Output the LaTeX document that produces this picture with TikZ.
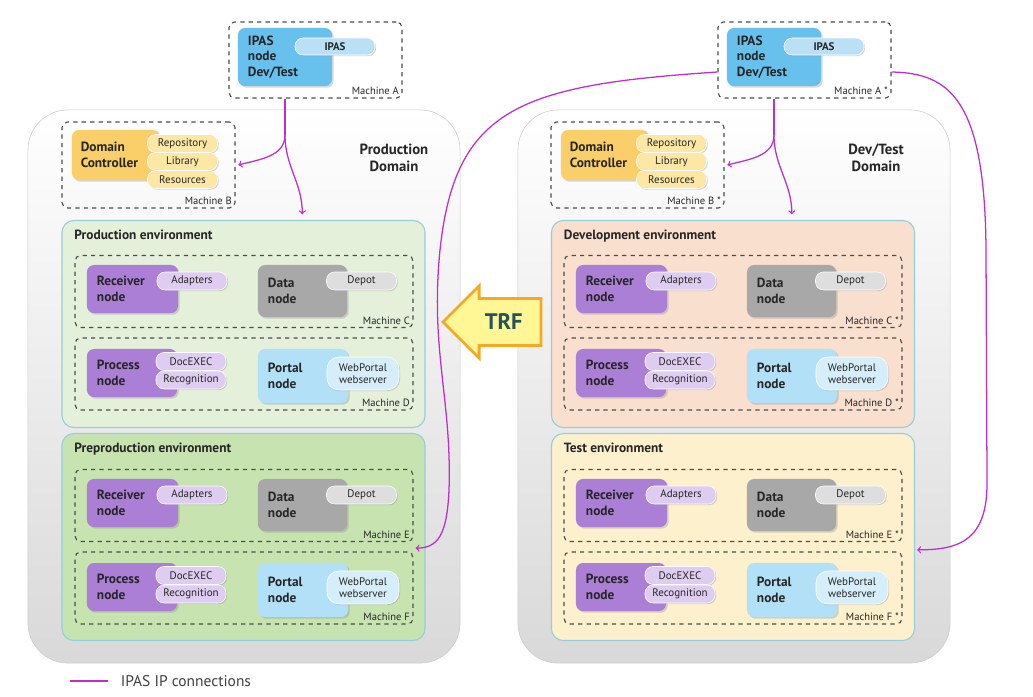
\documentclass[tikz,border=0pt]{standalone}
\usepackage{fontspec}
\setmainfont{PT Sans}
\usetikzlibrary{shadows,shapes.arrows}

\definecolor{ipline}{RGB}{190,45,205}
\definecolor{recvfill}{RGB}{171,127,214}
\definecolor{recvpill}{RGB}{222,205,240}
\definecolor{datafill}{RGB}{168,168,168}
\definecolor{datapill}{RGB}{222,222,222}
\definecolor{portfill}{RGB}{178,224,246}
\definecolor{portpill}{RGB}{214,238,250}
\definecolor{ipasfill}{RGB}{104,192,236}
\definecolor{ipaspill}{RGB}{186,224,246}
\definecolor{dcfill}{RGB}{250,206,104}
\definecolor{dcpill}{RGB}{253,231,165}
\definecolor{prodfill}{RGB}{228,240,218}
\definecolor{prefill}{RGB}{199,227,176}
\definecolor{devfill}{RGB}{248,223,206}
\definecolor{testfill}{RGB}{253,240,204}
\definecolor{envline}{RGB}{150,206,218}
\definecolor{trfline}{RGB}{246,168,36}
\definecolor{trffill}{RGB}{255,246,150}
\definecolor{trftext}{RGB}{36,82,96}

\tikzstyle{every node}=[font=\fontsize{9}{10.7}\selectfont, text=black!85]
\tikzstyle{domainbox}=[rounded corners=1cm, draw=black!20, top color=white, bottom color=black!15, minimum width=10.8cm, minimum height=13.825cm]
\tikzstyle{dtitle}=[align=center, font=\bfseries\fontsize{10.5}{12}\selectfont]
\tikzstyle{envbox}=[rounded corners=0.3cm, draw=envline, thick, minimum width=9.075cm, minimum height=5.175cm]
\tikzstyle{envtitle}=[anchor=north west, inner sep=0pt, font=\bfseries\fontsize{9.5}{11}\selectfont]
\tikzstyle{machine}=[draw=black!70, thick, dashed, rounded corners=4pt, minimum width=8.45cm, minimum height=1.8cm]
\tikzstyle{topbox}=[machine, minimum width=4.325cm]
\tikzstyle{mlabel}=[anchor=south east, inner sep=2.5pt, font=\fontsize{7.5}{8.5}\selectfont]
\tikzstyle{sw}=[rounded corners=5pt, align=left, inner xsep=0.25cm, font=\bfseries\fontsize{9.5}{10.9}\selectfont, drop shadow={shadow xshift=1.2pt, shadow yshift=-1.2pt, opacity=0.3}]
\tikzstyle{recvnode}=[sw, fill=recvfill, minimum width=2.275cm, minimum height=1.2cm, text width=1.775cm]
\tikzstyle{procnode}=[sw, fill=recvfill, minimum width=2.25cm, minimum height=1.2cm, text width=1.75cm]
\tikzstyle{datanode}=[sw, fill=datafill, minimum width=2.225cm, minimum height=1.3cm, text width=1.725cm]
\tikzstyle{portnode}=[sw, fill=portfill, minimum width=2.25cm, minimum height=1.35cm, text width=1.75cm]
\tikzstyle{ipasnode}=[sw, fill=ipasfill, minimum width=2.35cm, minimum height=1.45cm, text width=1.85cm]
\tikzstyle{dcnode}=[sw, fill=dcfill, minimum width=2.2cm, minimum height=1.25cm, text width=1.76cm, inner xsep=0.22cm]
\tikzstyle{pill}=[rounded corners=0.2cm, draw=white, align=center, inner sep=1pt, minimum width=1.75cm, minimum height=0.45cm, font=\fontsize{7.8}{8.6}\selectfont, drop shadow={shadow xshift=0.8pt, shadow yshift=-0.8pt, opacity=0.3}]
\tikzstyle{ipconn}=[draw=ipline, line width=0.9pt]
\tikzstyle{trf}=[single arrow, shape border rotate=180, fill=trffill, draw=trfline, line width=2pt, minimum height=2.45cm, single arrow head extend=9pt, inner ysep=10pt, inner xsep=3pt, font=\bfseries\fontsize{16}{16}\selectfont, text=trftext]

\begin{document}
\begin{tikzpicture}[x=0.025cm, y=-0.025cm]
  \useasboundingbox (0,0) rectangle (1033,697);

  % domains
  \node[domainbox] (domL) at (244,386.5) {};
  \node[domainbox] (domR) at (734,386.5) {};
  \node[dtitle] (tdomL) at (394,158) {Production\\Domain};
  \node[dtitle] (tdomR) at (876,158) {Dev/Test\\Domain};

  % environments
  \node[envbox, fill=prodfill] (envProd) at (243.5,324) {};
  \node[envbox, fill=prefill] (envPre) at (243.5,537) {};
  \node[envbox, fill=devfill] (envDev) at (733,324) {};
  \node[envbox, fill=testfill] (envTest) at (733,537) {};
  \node[envtitle] (tProd) at ([xshift=0.32cm,yshift=-0.25cm]envProd.north west) {Production environment};
  \node[envtitle] (tPre) at ([xshift=0.32cm,yshift=-0.25cm]envPre.north west) {Preproduction environment};
  \node[envtitle] (tDev) at ([xshift=0.32cm,yshift=-0.25cm]envDev.north west) {Development environment};
  \node[envtitle] (tTest) at ([xshift=0.32cm,yshift=-0.25cm]envTest.north west) {Test environment};

  % machines inside the environments
  \foreach \dx/\dy/\m/\n/\k/\s in {0/0/C/D/L/{}, 0/214/E/F/L/{}, 489/0/C/D/R/{\ *}, 489/214/E/F/R/{\ *}}{
    \begin{scope}[shift={(\dx,\dy)}]
      \node[machine] (box\m\k) at (244,291.5) {};
      \node[recvnode] (recv\m\k) at (132.5,289) {Receiver\\node};
      \node[pill, fill=recvpill] (adap\m\k) at (192,281) {Adapters};
      \node[datanode] (data\m\k) at (302.5,291) {Data\\node};
      \node[pill, fill=datapill] (depot\m\k) at (361.5,281) {Depot};
      \node[mlabel] (lab\m\k) at (box\m\k.south east) {Machine \m\s};
      \node[machine] (box\n\k) at (244,374) {};
      \node[procnode] (proc\n\k) at (132,373) {Process\\node};
      \node[pill, fill=recvpill] (exec\n\k) at (191,361.5) {DocEXEC};
      \node[pill, fill=recvpill] (recog\n\k) at (191,380) {Recognition};
      \node[portnode] (port\n\k) at (303,376) {Portal\\node};
      \node[pill, fill=portpill, minimum width=1.8cm, minimum height=0.825cm, rounded corners=0.3cm] (web\n\k) at (363,373.5) {WebPortal\\webserver};
      \node[mlabel] (lab\n\k) at (box\n\k.south east) {Machine \n\s};
    \end{scope}
  }

  % IPAS machine and domain controller
  \foreach \dx/\k/\e/\s in {0/L/Prod/{}, 489/R/Dev/{\ *}}{
    \begin{scope}[shift={(\dx,0)}]
      \node[topbox, minimum height=1.9cm] (ipm\k) at (315.5,60) {};
      \node[ipasnode] (ipn\k) at (285,57) {IPAS\\node\\Dev/Test};
      \node[pill, fill=ipaspill, minimum width=2cm, minimum height=0.425cm] (ipp\k) at (335,46.5) {\bfseries IPAS};
      \node[mlabel] (labA\k) at (ipm\k.south east) {Machine A\s};
      \node[topbox, minimum height=2.15cm] (dcm\k) at (148.5,165) {};
      \node[dcnode] (dc\k) at (116,155) {Domain\\Controller};
      \node[pill, fill=dcpill] (repo\k) at (182.5,143.5) {Repository};
      \node[pill, fill=dcpill] (lib\k) at (182.5,161.5) {Library};
      \node[pill, fill=dcpill] (res\k) at (182.5,179.5) {Resources};
      \node[mlabel] (labB\k) at (dcm\k.south east) {Machine B\s};
      \coordinate (split\k) at (285,135);
      \draw[ipconn] (ipn\k |- ipm\k.south) -- (split\k);
      \draw[ipconn,->] (split\k) to[out=-90,in=15] ([xshift=2pt]dcm\k.east);
      \draw[ipconn,->] (split\k) to[out=-90,in=90] ([xshift=1.47cm,yshift=4pt]env\e.north);
    \end{scope}
  }

  % long connections from the dev/test IPAS node
  \draw[ipconn,->] ([yshift=-0.3cm]ipmR.west) .. controls (520,85) and (455,108) .. (440,250)
    .. controls (430,350) and (452,400) .. (449,490)
    .. controls (447,535) and (438,548) .. ([xshift=-0.25cm,yshift=-0.28cm]envPre.east);
  \draw[ipconn,->] ([yshift=-0.3cm]ipmR.east) .. controls (950,73) and (985,100) .. (986,250)
    -- (987,480) .. controls (988,540) and (960,550) .. ([xshift=0.05cm,yshift=-0.32cm]envTest.east);

  % transfer arrow
  \node[trf, anchor=tip] (trf) at (441,322) {TRF};

  % legend
  \coordinate (legA) at (70,681);
  \coordinate (legB) at (108,681);
  \draw[ipconn] (legA) -- (legB);
  \node[anchor=west, font=\fontsize{11}{13}\selectfont, text=black!75] (legend) at ([xshift=0.2cm]legB) {IPAS IP connections};
\end{tikzpicture}
\end{document}
